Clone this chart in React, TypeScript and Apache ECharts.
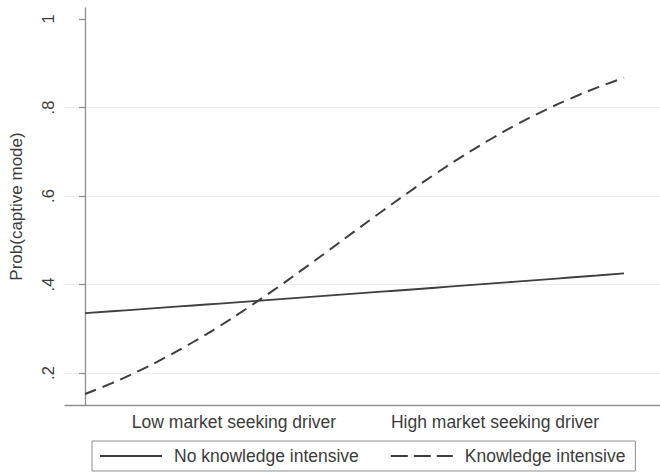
import React, { useEffect, useRef } from "react";
import * as echarts from "echarts";

// Market-seeking driver position (0 = left end of curves, 1 = right end)
const xs = [0, 0.05, 0.1, 0.15, 0.2, 0.25, 0.3, 0.35, 0.4, 0.45, 0.5, 0.55, 0.6, 0.65, 0.7, 0.75, 0.8, 0.85, 0.9, 0.95, 1.0];

const noKnowledge = [0.3354, 0.3396, 0.3439, 0.3482, 0.3526, 0.357, 0.3614, 0.3658, 0.3702, 0.3747, 0.3792, 0.3837, 0.3882, 0.3927, 0.3973, 0.4019, 0.4065, 0.4111, 0.4158, 0.4204, 0.4251];

const knowledge = [0.1525, 0.1772, 0.2049, 0.2357, 0.2695, 0.3063, 0.3457, 0.3873, 0.4307, 0.4751, 0.52, 0.5645, 0.608, 0.6499, 0.6896, 0.7266, 0.7608, 0.7919, 0.8199, 0.8449, 0.867];

const seriesNames = ["No knowledge intensive", "Knowledge intensive"];

const xTickValues = [0.2764, 0.7607];
const xTickLabels = ["Low market seeking driver", "High market seeking driver"];

const yTickValues = [0.2, 0.4, 0.6, 0.8, 1];
const yTickLabels = [".2", ".4", ".6", ".8", "1"];
const yGridValues = [0.2, 0.4, 0.6, 0.8];

const yTitle = "Prob(captive mode)";

const TEXT = "#3c3c3c";
const AXIS = "#8f8f8f";
const LINE = "#3f3f3f";
const FONT = "Liberation Sans, Arial, sans-serif";

const DASH_ICON = "path://M0,0H17V2H0Z M23,0H40V2H23Z M46,0H62V2H46Z";

export default function App() {
  const ref = useRef<HTMLDivElement>(null);

  useEffect(() => {
    if (!ref.current) return;
    const chart = echarts.init(ref.current, undefined, { renderer: "svg" });
    const pair = (vals: number[]) => xs.map((x, i) => [x, vals[i]]);

    chart.setOption({
      animation: false,
      backgroundColor: "#ffffff",
      textStyle: { fontFamily: FONT },
      grid: { left: 65, right: 0, top: 8, bottom: 68, containLabel: false },
      xAxis: {
        type: "value",
        min: -0.0371,
        max: 1.0668,
        axisLine: { show: true, lineStyle: { color: AXIS, width: 1.3 } },
        axisTick: { show: false, customValues: xTickValues },
        splitLine: { show: false },
        axisLabel: {
          customValues: xTickValues,
          margin: 8,
          color: TEXT,
          fontSize: 17.5,
          fontFamily: FONT,
          formatter: (v: number) => {
            const i = xTickValues.findIndex((t) => Math.abs(t - v) < 1e-6);
            return i >= 0 ? xTickLabels[i] : "";
          },
        },
      },
      yAxis: {
        type: "value",
        min: 0.1277,
        max: 1.0249,
        name: yTitle,
        nameLocation: "middle",
        nameRotate: 90,
        nameGap: 40,
        nameTextStyle: { color: TEXT, fontSize: 17, fontFamily: FONT },
        axisLine: { show: true, lineStyle: { color: AXIS, width: 1.3 } },
        axisTick: { show: true, length: 6, customValues: yTickValues, lineStyle: { color: AXIS, width: 1.3 } },
        splitLine: { show: false },
        axisLabel: {
          customValues: yTickValues,
          rotate: 90,
          margin: 9,
          color: TEXT,
          fontSize: 16.5,
          fontFamily: FONT,
          formatter: (v: number) => {
            const i = yTickValues.findIndex((t) => Math.abs(t - v) < 1e-6);
            return i >= 0 ? yTickLabels[i] : "";
          },
        },
      },
      legend: {
        left: 92,
        top: 441,
        orient: "horizontal",
        padding: [6, 10, 6, 8],
        borderColor: AXIS,
        borderWidth: 1,
        itemWidth: 62,
        itemHeight: 2,
        itemGap: 32,
        itemStyle: { color: LINE },
        textStyle: { color: TEXT, fontSize: 17.5, fontFamily: FONT, padding: [0, 0, 0, 7] },
        data: [
          { name: seriesNames[0], icon: "rect" },
          { name: seriesNames[1], icon: DASH_ICON },
        ],
      },
      series: [
        {
          name: seriesNames[0],
          type: "line",
          data: pair(noKnowledge),
          symbol: "none",
          smooth: true,
          lineStyle: { color: LINE, width: 1.8, type: "solid" },
          itemStyle: { color: LINE },
          markLine: {
            silent: true,
            symbol: "none",
            label: { show: false },
            lineStyle: { color: "#ececec", width: 1, type: "solid" },
            data: yGridValues.map((v) => ({ yAxis: v })),
            z: 0,
          },
          z: 3,
        },
        {
          name: seriesNames[1],
          type: "line",
          data: pair(knowledge),
          symbol: "none",
          smooth: true,
          lineStyle: { color: LINE, width: 2, type: [12, 7] },
          itemStyle: { color: LINE },
          z: 3,
        },
      ],
    });

    return () => chart.dispose();
  }, []);

  return (
    <div
      ref={ref}
      style={{ position: "absolute", left: 0, top: 0, width: 660, height: 473 }}
    />
  );
}
